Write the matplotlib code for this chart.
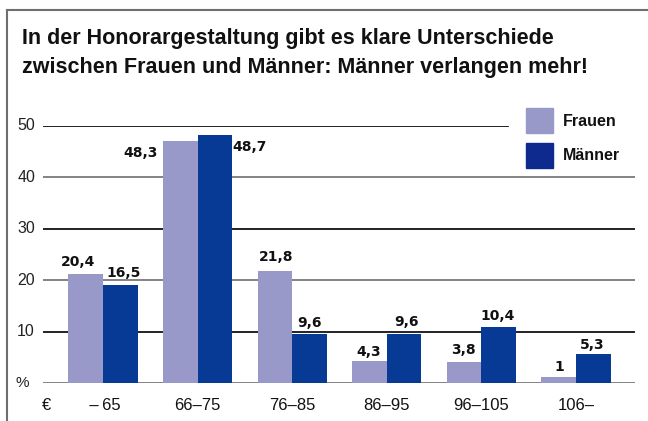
import matplotlib
matplotlib.use("Agg")
import matplotlib.pyplot as plt
from matplotlib.patches import Rectangle
from matplotlib.lines import Line2D
import numpy as np

plt.rcParams['font.family'] = ['Liberation Sans', 'DejaVu Sans']

# ---- data ----
title = "In der Honorargestaltung gibt es klare Unterschiede\nzwischen Frauen und Männer: Männer verlangen mehr!"
categories = ["\u2009–\u200965", "66–75", "76–85", "86–95", "96–105", "106–"]
series_names = ["Frauen", "Männer"]
# bar heights as drawn in the picture
frauen_heights = [21.3, 47.1, 21.8, 4.4, 4.1, 1.2]
maenner_heights = [19.1, 48.3, 9.6, 9.6, 10.9, 5.7]
# printed value labels
frauen_labels = ["20,4", "48,3", "21,8", "4,3", "3,8", "1"]
maenner_labels = ["16,5", "48,7", "9,6", "9,6", "10,4", "5,3"]
yticks = [0, 10, 20, 30, 40, 50]
ytick_labels = ["%", "10", "20", "30", "40", "50"]

# ---- style ----
c_f = "#9999c9"
c_m = "#073a95"
W, H = 648, 421
fig = plt.figure(figsize=(W / 100, H / 100), dpi=100)

def fx(px):
    return px / W

def fy(py):
    return 1 - py / H

# frame
fig.add_artist(Line2D([fx(7), fx(7)], [fy(10), fy(421)], color="#6f6f6f", lw=1.5))
fig.add_artist(Line2D([fx(7), fx(648)], [fy(10), fy(10)], color="#6f6f6f", lw=1.5))

fig.text(fx(22), fy(28), title, ha="left", va="top", fontsize=15.5, fontweight="bold",
         linespacing=1.5, color="#111111")

ax_left, ax_right = 43, 635
y0px, y50px = 383.3, 126
ax = fig.add_axes([fx(ax_left), fy(y0px), (ax_right - ax_left) / W, (y0px - y50px) / H])
n = len(categories)
xpx_first, xpx_step = 103, 94.6
xmin = (ax_left - xpx_first) / xpx_step
xmax = (ax_right - xpx_first) / xpx_step
ax.set_xlim(xmin, xmax)
ax.set_ylim(0, 50)
for s in ax.spines.values():
    s.set_visible(False)
ax.set_xticks([])
ax.set_yticks([])

# gridlines
grid_colors = {0: "#7a7a7a", 10: "#111111", 20: "#7a7a7a", 30: "#111111", 40: "#7a7a7a", 50: "#111111"}
for t in yticks:
    xe = 1.0 if t != 50 else (508 - ax_left) / (ax_right - ax_left)
    ax.axhline(t, xmin=0, xmax=xe, color=grid_colors[t], lw=1.3, zorder=1)

x = np.arange(n)
bw = 0.365
ax.bar(x - bw / 2, frauen_heights, bw, color=c_f, zorder=2, clip_on=False)
ax.bar(x + bw / 2, maenner_heights, bw, color=c_m, zorder=2, clip_on=False)

# value labels (pixel offsets from bar top centre)
lab_kw = dict(fontsize=10, fontweight="bold", family=["DejaVu Sans"], color="#111111")
f_off = [(-8, 12), (-40, -12), (1, 14), (-1, 9), (-1, 12), (1, 10)]
m_off = [(3, 12), (35, -12), (0, 11), (2, 12), (-1, 11), (-1, 9)]
for i in range(n):
    dx, dy = f_off[i]
    ax.annotate(frauen_labels[i], (x[i] - bw / 2, frauen_heights[i]), xytext=(dx * 0.72, dy * 0.72),
                textcoords="offset points", ha="center", va="center", **lab_kw)
    dx, dy = m_off[i]
    ax.annotate(maenner_labels[i], (x[i] + bw / 2, maenner_heights[i]), xytext=(dx * 0.72, dy * 0.72),
                textcoords="offset points", ha="center", va="center", **lab_kw)

# y tick labels
for t, lab in zip(yticks, ytick_labels):
    if lab == "%":
        fig.text(fx(22), fy(y0px - t * 5.146), lab, ha="center", va="center", fontsize=11,
                 color="#222222")
    else:
        fig.text(fx(35), fy(y0px - t * 5.146), lab, ha="right", va="center", fontsize=11.5,
                 color="#222222")

# category labels
fig.text(fx(47), fy(405), "€", ha="center", va="center", fontsize=12, color="#111111")
for i, c in enumerate(categories):
    fig.text(fx(xpx_first + i * xpx_step), fy(405), c, ha="center", va="center", fontsize=12,
             color="#111111")

# legend
fig.add_artist(Rectangle((fx(526), fy(133)), 27 / W, 25 / H, color=c_f, transform=fig.transFigure))
fig.add_artist(Rectangle((fx(526), fy(168)), 27 / W, 25 / H, color="#0e2a8e", transform=fig.transFigure))
fig.text(fx(563), fy(121), series_names[0], ha="left", va="center", fontsize=11.5, fontweight="bold",
         color="#111111")
fig.text(fx(563), fy(156), series_names[1], ha="left", va="center", fontsize=11.5, fontweight="bold",
         color="#111111")

fig.savefig("out.png", dpi=100)
